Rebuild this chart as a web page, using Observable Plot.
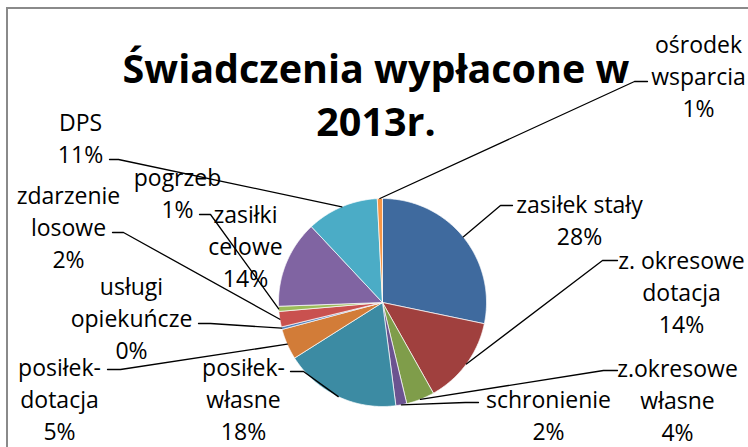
<!DOCTYPE html>
<html>
<head>
<meta charset="utf-8">
<script src="https://cdn.jsdelivr.net/npm/d3@7"></script>
<script src="https://cdn.jsdelivr.net/npm/@observablehq/plot@0.6"></script>
<style>
  html, body { margin: 0; padding: 0; background: #fff; }
  #chart svg { display: block; }
</style>
</head>
<body>
<div id="chart"></div>
<script>
// ---- data ----
const categories = ["zasiłek stały", "z. okresowe dotacja", "z.okresowe własne", "schronienie",
  "posiłek-własne", "posiłek-dotacja", "usługi opiekuńcze", "zdarzenie losowe",
  "pogrzeb", "zasiłki celowe", "DPS", "ośrodek wsparcia"];
const values = [28.3, 13.6, 4.4, 1.7, 18.1, 4.8, 0.4, 2.4, 0.8, 13.6, 11.2, 0.8];
const labelLines = [["zasiłek stały"], ["z. okresowe", "dotacja"], ["z.okresowe", "własne"], ["schronienie"],
  ["posiłek-", "własne"], ["posiłek-", "dotacja"], ["usługi", "opiekuńcze"], ["zdarzenie", "losowe"],
  ["pogrzeb"], ["zasiłki", "celowe"], ["DPS"], ["ośrodek", "wsparcia"]];
const colors = ["#3F6A9E", "#A0403E", "#7F9D4A", "#6B5390", "#3C8BA3", "#D27C38",
  "#4F81BD", "#C9514F", "#9BBB59", "#8064A2", "#4BACC6", "#F79646"];
const title = "Świadczenia wypłacone w\n2013r.";

// ---- layout (page pixels) ----
const W = 748, H = 447, CX = 382, CY = 302, R = 104;
// label block centres
const labelPos = [[579, 218], [681, 290], [677, 398], [548, 413], [243, 397], [59, 397],
  [131, 316], [68, 225], [177, 191], [245, 244], [80, 136], [698, 74]];
// leader: [attachX, attachY, elbowX] (null = no leader)
const leaderPos = [[512, 205, 500], [617, 260, 602], [617, 370, 603], [478, 402, 465],
  [290, 371, 303], [107, 369, 120], [198, 323, 210], [112, 232, 123], [199, 214, 210],
  null, [109, 159, 118], [647, 81, 634]];

// ---- derived ----
const total = d3.sum(values);
let acc = 0;
const slices = values.map((v, i) => {
  const a0 = acc / total * 2 * Math.PI; acc += v;
  const a1 = acc / total * 2 * Math.PI;
  return {name: categories[i], a0, a1, mid: (a0 + a1) / 2, pct: Math.round(v / total * 100)};
});
const piePts = slices.flatMap(s => {
  const n = Math.max(2, Math.ceil((s.a1 - s.a0) / 0.01));
  const pts = [{name: s.name, x: 0, y: 0}];
  for (let k = 0; k <= n; k++) {
    const a = s.a0 + (s.a1 - s.a0) * k / n;
    pts.push({name: s.name, x: R * Math.sin(a), y: R * Math.cos(a)});
  }
  pts.push({name: s.name, x: 0, y: 0});
  return pts;
});
const px = x => x - CX, py = y => CY - y;
const labels = slices.map((s, i) => ({
  x: px(labelPos[i][0]), y: py(labelPos[i][1]),
  text: [...labelLines[i], s.pct + "%"].join("\n")
}));
const leaders = slices.flatMap((s, i) => {
  const L = leaderPos[i];
  if (!L) return [];
  return [
    {name: s.name, x: R * Math.sin(s.mid), y: R * Math.cos(s.mid)},
    {name: s.name, x: px(L[2]), y: py(L[1])},
    {name: s.name, x: px(L[0]), y: py(L[1])}
  ];
});

const chart = Plot.plot({
  width: W, height: H, margin: 0,
  x: {domain: [-CX, W - CX], axis: null},
  y: {domain: [CY - H, CY], axis: null},
  color: {domain: categories, range: colors},
  style: {fontFamily: "'Open Sans', sans-serif", background: "#fff", color: "#000"},
  marks: [
    Plot.frame({stroke: "#8a8a8a", strokeWidth: 2, insetLeft: 6.5, insetTop: 7.5, insetRight: -20, insetBottom: -20}),
    Plot.line(piePts, {x: "x", y: "y", z: "name", fill: "name", stroke: "#fff", strokeWidth: 0.7, curve: "linear"}),
    Plot.text(labels, {x: "x", y: "y", text: "text", fontSize: 23, lineHeight: 1.39, fill: "#000"}),
    Plot.line(leaders, {x: "x", y: "y", z: "name", stroke: "#000", strokeWidth: 1.3, curve: "linear"}),
    Plot.text([title], {frameAnchor: "top", dx: 1.5, dy: 44, lineAnchor: "top", fontSize: 39.5, fontWeight: "bold", lineHeight: 1.36, fill: "#000"})
  ]
});
document.getElementById("chart").append(chart);
</script>
</body>
</html>
